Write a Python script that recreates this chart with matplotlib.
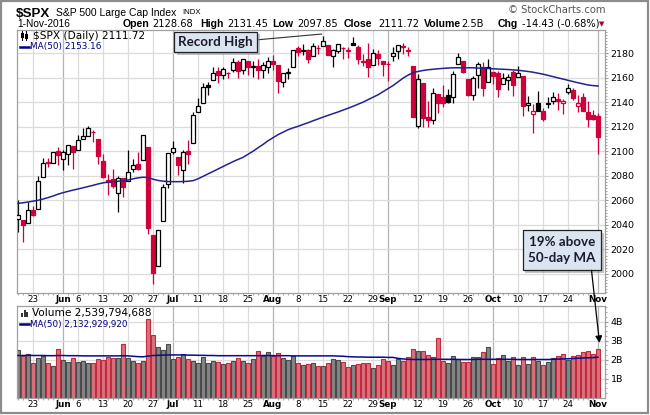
import matplotlib
matplotlib.use('Agg')
import matplotlib.pyplot as plt
import matplotlib.patheffects as pe
from matplotlib.patches import Rectangle
from matplotlib.lines import Line2D
import pandas as pd

# trading days 18-May-2016 .. 1-Nov-2016
days = pd.bdate_range('2016-05-18', '2016-11-01')
days = days.drop(pd.to_datetime(['2016-05-30', '2016-07-04', '2016-09-05']))

opens = [2044.38, 2044.21, 2041.88, 2052.23, 2052.65, 2078.93, 2091.44, 2090.06, 2100.13,
         2093.94, 2097.71, 2104.07, 2100.83, 2110.18, 2112.71, 2115.65, 2109.57, 2091.75, 2076.65,
         2077.60, 2066.36, 2078.20, 2075.58, 2085.19, 2089.75, 2092.80, 2103.81, 2031.45, 2006.67,
         2043.29, 2073.17,
         2099.34, 2095.05, 2084.43, 2100.42, 2106.97, 2131.72, 2139.50, 2153.81, 2157.88, 2165.13,
         2162.04, 2163.79, 2166.10, 2172.91, 2166.47, 2173.71, 2168.97, 2169.81, 2166.05, 2168.83,
         2173.15, 2169.94, 2156.81, 2163.51, 2168.79, 2183.76, 2182.24, 2182.81, 2177.97, 2183.74,
         2186.08, 2186.24, 2177.84, 2181.90, 2184.24, 2181.58, 2187.81, 2185.09, 2173.29, 2175.10,
         2170.19, 2179.45, 2173.56,
         2171.33, 2177.49, 2181.61, 2185.17, 2182.76, 2169.08, 2120.86, 2155.81, 2127.86, 2125.36,
         2146.48, 2143.99, 2145.94, 2144.58, 2170.94, 2173.29, 2158.54, 2146.04, 2161.85, 2168.90,
         2156.51,
         2164.33, 2163.37, 2155.15, 2158.22, 2164.19, 2160.39, 2161.35, 2137.67, 2130.26, 2139.68,
         2132.95, 2138.31, 2140.81, 2142.51, 2139.43, 2148.50, 2149.72, 2136.97, 2144.06, 2132.23,
         2129.78, 2128.68]
highs = [2060.61, 2044.21, 2058.35, 2055.58, 2079.67, 2094.73, 2094.30, 2099.06, 2103.48,
         2100.97, 2105.26, 2104.07, 2113.36, 2119.22, 2120.55, 2117.64, 2109.57, 2098.12, 2081.30,
         2085.65, 2079.62, 2078.20, 2100.66, 2093.66, 2099.71, 2113.32, 2103.81, 2031.45, 2036.09,
         2073.13, 2098.94,
         2108.71, 2095.05, 2100.72, 2109.08, 2131.71, 2143.16, 2155.40, 2156.45, 2168.99, 2169.05,
         2168.35, 2164.63, 2175.63, 2174.56, 2175.11, 2173.71, 2173.54, 2174.98, 2172.85, 2177.09,
         2178.29, 2170.20, 2163.79, 2168.19, 2182.87, 2185.44, 2187.66, 2183.41, 2188.45, 2186.28,
         2193.81, 2186.24, 2183.08, 2187.03, 2185.00, 2184.94, 2193.42, 2186.66, 2179.00, 2187.94,
         2183.48, 2182.27, 2173.79,
         2173.56, 2184.87, 2186.57, 2187.87, 2184.94, 2169.08, 2163.30, 2155.81, 2141.33, 2151.31,
         2146.48, 2153.61, 2150.80, 2165.11, 2179.99, 2173.75, 2158.54, 2161.13, 2172.40, 2172.67,
         2175.30,
         2164.33, 2165.46, 2163.95, 2162.93, 2165.86, 2169.60, 2161.56, 2145.36, 2138.19, 2149.19,
         2135.61, 2144.38, 2148.44, 2147.18, 2142.63, 2154.79, 2151.44, 2145.73, 2147.13, 2140.72,
         2133.25, 2131.45]
lows = [2034.49, 2025.91, 2041.88, 2047.26, 2052.65, 2078.93, 2087.08, 2090.06, 2088.66,
        2085.10, 2088.59, 2085.36, 2100.83, 2110.18, 2112.71, 2107.73, 2089.96, 2078.46, 2064.10,
        2069.80, 2050.37, 2062.84, 2075.58, 2083.02, 2084.36, 2092.80, 2032.57, 1991.68, 2006.67,
        2043.29, 2070.00,
        2097.90, 2080.86, 2074.02, 2089.39, 2106.97, 2131.72, 2139.50, 2146.21, 2157.88, 2155.79,
        2159.07, 2159.40, 2164.89, 2159.75, 2163.24, 2161.95, 2160.18, 2159.07, 2159.74, 2163.49,
        2166.21, 2147.58, 2152.56, 2159.07, 2168.79, 2177.85, 2178.61, 2172.00, 2177.97, 2179.42,
        2186.08, 2178.14, 2168.50, 2180.46, 2175.13, 2175.96, 2186.80, 2171.25, 2169.74, 2160.39,
        2170.19, 2170.41, 2161.35,
        2157.09, 2173.59, 2175.10, 2179.07, 2177.49, 2127.81, 2119.12, 2119.95, 2119.90, 2122.36,
        2131.20, 2135.91, 2139.17, 2139.57, 2170.94, 2163.97, 2145.04, 2141.55, 2151.79, 2145.20,
        2156.51,
        2154.77, 2144.01, 2155.15, 2150.28, 2144.85, 2160.39, 2128.84, 2132.77, 2114.72, 2132.98,
        2124.43, 2135.49, 2138.15, 2133.44, 2130.09, 2146.91, 2141.93, 2131.59, 2132.52, 2119.36,
        2125.53, 2097.85]
closes = [2047.63, 2040.04, 2052.32, 2048.04, 2076.06, 2090.54, 2090.10, 2099.06, 2096.95,
          2099.33, 2105.26, 2099.13, 2109.41, 2112.13, 2119.12, 2115.48, 2096.07, 2079.06, 2075.32,
          2071.50, 2077.99, 2071.22, 2083.25, 2088.90, 2085.45, 2113.32, 2037.41, 2000.54, 2036.09,
          2070.77, 2098.86,
          2102.95, 2088.55, 2099.73, 2097.90, 2129.90, 2137.16, 2152.14, 2152.43, 2163.75, 2161.74,
          2166.89, 2163.78, 2173.02, 2165.17, 2175.03, 2168.48, 2169.18, 2166.58, 2170.06, 2173.60,
          2170.84, 2157.03, 2163.79, 2164.25, 2182.87, 2180.89, 2181.74, 2175.49, 2185.79, 2184.05,
          2190.15, 2178.15, 2182.22, 2187.02, 2183.87, 2182.64, 2186.90, 2175.44, 2172.47, 2169.04,
          2180.38, 2176.12, 2170.95,
          2170.86, 2179.98, 2186.48, 2186.16, 2181.30, 2127.81, 2159.04, 2127.02, 2125.77, 2147.26,
          2139.16, 2139.12, 2139.76, 2163.12, 2177.18, 2164.69, 2146.10, 2159.93, 2171.37, 2151.13,
          2168.27,
          2161.20, 2150.49, 2159.73, 2160.77, 2153.74, 2163.66, 2136.73, 2139.18, 2132.55, 2132.98,
          2126.50, 2139.60, 2144.29, 2141.34, 2141.16, 2151.33, 2143.16, 2139.43, 2133.04, 2126.41,
          2126.15, 2111.72]
close_before = 2047.21  # 17-May close, sets colour of first candle

ma50 = [2057.5, 2058.0, 2058.6, 2059.3, 2060.0, 2061.0, 2062.2, 2063.5, 2065.0, 2066.2,
        2067.3, 2068.3, 2069.2, 2070.2, 2071.2, 2072.2, 2073.3, 2074.2, 2074.8, 2075.2,
        2075.5, 2075.8, 2076.5, 2077.5, 2078.3, 2078.8, 2078.6, 2077.2, 2076.2, 2075.6,
        2075.3, 2075.2, 2075.2, 2075.3, 2075.5, 2076.0, 2077.5, 2079.5, 2081.5, 2083.5,
        2085.5, 2087.5, 2089.5, 2091.5, 2093.3, 2095.0, 2097.5, 2100.0, 2102.8, 2105.5,
        2108.5, 2111.0, 2113.5, 2115.5, 2117.5, 2119.0, 2120.3, 2121.8, 2123.2, 2124.8,
        2126.3, 2127.8, 2129.2, 2130.6, 2132.0, 2133.5, 2135.0, 2136.6, 2138.3, 2140.0,
        2142.0, 2144.0, 2146.0, 2148.5, 2151.0, 2153.5, 2156.5, 2159.5, 2162.0, 2164.0,
        2165.0, 2165.8, 2166.4, 2166.8, 2167.2, 2167.5, 2167.8, 2168.0, 2168.0, 2168.0,
        2168.0, 2168.0, 2167.8, 2167.6, 2167.4, 2167.2, 2167.0, 2166.8, 2166.6, 2166.3,
        2166.0, 2165.5, 2165.0, 2164.4, 2163.6, 2162.8, 2161.8, 2160.8, 2159.8, 2158.8,
        2157.8, 2156.8, 2155.8, 2154.9, 2154.0, 2153.5, 2153.16]

volume_b = [2.51, 2.19, 2.30, 1.83, 2.09, 2.19, 1.83, 1.65, 2.56, 1.97,
            1.88, 2.09, 1.88, 1.93, 1.83, 1.83, 2.04, 1.99, 2.16, 2.09,
            2.09, 2.83, 2.09, 1.93, 1.83, 1.93, 4.14, 3.30, 2.67, 2.51,
            2.83, 2.04, 2.14, 2.30, 2.04, 1.95, 1.85, 2.15, 1.85, 1.95,
            1.90, 1.75, 1.85, 1.95, 2.10, 1.95, 1.83, 2.05, 2.45, 2.20,
            2.42, 2.20, 2.35, 2.10, 2.00, 2.20, 1.85, 1.70, 1.75, 1.85,
            1.65, 1.65, 1.83, 2.04, 1.99, 1.88, 1.62, 1.72, 1.78, 1.83,
            1.83, 1.56, 1.72, 2.04, 1.93, 1.72, 2.04, 1.93, 2.14, 2.56,
            2.46, 2.46, 2.25, 2.14, 3.14, 1.93, 1.83, 2.19, 2.04, 1.88,
            1.88, 2.14, 2.14, 2.40, 2.67, 1.78, 2.09, 2.25, 1.93, 2.14,
            1.72, 2.14, 1.78, 2.14, 1.93, 1.72, 1.88, 2.09, 2.19, 2.30,
            1.99, 2.19, 2.25, 2.41, 2.46, 2.30, 2.54]
vol_ma50_b = [2.22, 2.22, 2.23, 2.22, 2.22, 2.22, 2.21, 2.21, 2.22, 2.22,
              2.21, 2.21, 2.21, 2.20, 2.20, 2.20, 2.20, 2.20, 2.20, 2.20,
              2.20, 2.21, 2.20, 2.18, 2.16, 2.15, 2.19, 2.22, 2.23, 2.24,
              2.25, 2.25, 2.25, 2.25, 2.24, 2.24, 2.23, 2.23, 2.22, 2.22,
              2.21, 2.21, 2.21, 2.21, 2.21, 2.21, 2.21, 2.21, 2.21, 2.22,
              2.22, 2.21, 2.21, 2.21, 2.21, 2.20, 2.20, 2.20, 2.20, 2.20,
              2.20, 2.20, 2.20, 2.20, 2.19, 2.18, 2.16, 2.15, 2.14, 2.14,
              2.13, 2.13, 2.13, 2.13, 2.12, 2.12, 2.07, 2.04, 2.02, 2.01,
              2.01, 2.01, 2.01, 2.02, 2.02, 2.02, 2.02, 2.02, 2.01, 2.01,
              2.01, 2.01, 2.02, 2.02, 2.02, 2.02, 2.02, 2.02, 2.02, 2.02,
              2.01, 2.01, 2.01, 2.01, 2.01, 2.01, 2.01, 2.02, 2.03, 2.04,
              2.05, 2.06, 2.08, 2.09, 2.10, 2.11, 2.13]

tick_dates = ['2016-05-23', '2016-06-01', '2016-06-06', '2016-06-13', '2016-06-20', '2016-06-27',
              '2016-07-01', '2016-07-11', '2016-07-18', '2016-07-25', '2016-08-01', '2016-08-08',
              '2016-08-15', '2016-08-22', '2016-08-29', '2016-09-01', '2016-09-12', '2016-09-19',
              '2016-09-26', '2016-10-03', '2016-10-10', '2016-10-17', '2016-10-24', '2016-11-01']
tick_labels = ['23', 'Jun', '6', '13', '20', '27', 'Jul', '11', '18', '25', 'Aug', '8', '15',
               '22', '29', 'Sep', '12', '19', '26', 'Oct', '10', '17', '24', 'Nov']
months = ['Jun', 'Jul', 'Aug', 'Sep', 'Oct', 'Nov']

RED = '#d0003a'
W, H = 650, 415


def fx(x):
    return x / W


def fy(y):
    return 1 - y / H


fig = plt.figure(figsize=(6.5, 4.15), dpi=100)
ax = fig.add_axes([fx(17), fy(292.7), fx(605) - fx(17), fy(30) - fy(292.7)])
axv = fig.add_axes([fx(17), fy(397.7), fx(605) - fx(17), fy(305.7) - fy(397.7)])

n = len(closes)
ticks = [list(days).index(pd.Timestamp(d)) for d in tick_dates]

for a in (ax, axv):
    a.set_xlim(-0.2, n - 1 + 1.4)
    for t, lab in zip(ticks, tick_labels):
        a.axvline(t, color='#b4b4b4' if lab in months else '#dcdcdc', lw=0.9, zorder=0)
    a.set_xticks(ticks)
    a.set_xticklabels(tick_labels, fontsize=6.3)
    for tl in a.get_xticklabels():
        if tl.get_text() in months:
            tl.set_fontweight('bold')
    a.set_xticks(range(n), minor=True)
    a.tick_params(axis='x', which='major', length=0, pad=2)
    a.tick_params(axis='x', which='minor', length=1.5, color='#999999')
    a.yaxis.tick_right()
    a.tick_params(axis='y', which='major', length=2, pad=2, labelsize=6.8, color='#999999')
    a.tick_params(axis='y', which='minor', length=1.5, color='#999999')
    for s in a.spines.values():
        s.set_color('#a0a0a0')
        s.set_linewidth(0.9)

# price panel
ax.set_ylim(1984.7, 2198.8)
ax.set_yticks(range(2000, 2181, 20))
ax.set_yticks([2000 + 2.5 * k for k in range(-6, 80)], minor=True)
for v in range(2000, 2181, 20):
    ax.axhline(v, color='#dcdcdc', lw=0.9, zorder=0)

prev = close_before
for i in range(n):
    o, h, l, c = opens[i], highs[i], lows[i], closes[i]
    col = RED if c < prev else 'black'
    ax.plot([i, i], [l, h], color=col, lw=0.9, zorder=2, solid_capstyle='butt')
    lo, hi = min(o, c), max(o, c)
    face = col if c < o else 'white'
    ax.add_patch(Rectangle((i - 0.32, lo), 0.64, max(hi - lo, 0.3), facecolor=face,
                           edgecolor=col, lw=0.9, zorder=3))
    prev = c

ax.plot(range(n), ma50, color='#23238f', lw=1.1, zorder=4)

# volume panel
axv.set_ylim(0, 4.84)
axv.set_yticks([1, 2, 3, 4])
axv.set_yticklabels(['1B', '2B', '3B', '4B'])
axv.set_yticks([0.25 * k for k in range(1, 20)], minor=True)
for v in [1, 2, 3, 4]:
    axv.axhline(v, color='#dcdcdc', lw=0.9, zorder=0)
prev = close_before
for i in range(n):
    down = closes[i] < prev
    axv.bar(i, volume_b[i], width=0.84, color='#d8737e' if down else '#858585',
            edgecolor='#c42a3e' if down else '#4a4a4a', lw=0.8, zorder=2)
    prev = closes[i]
axv.plot(range(n), vol_ma50_b, color='#0a0a8c', lw=1.1, zorder=4)

# header
fig.text(fx(16), fy(14), '$SPX', fontsize=9.6, fontweight='bold', family='Liberation Sans',
         va='center')
fig.text(fx(56), fy(13), 'S&P 500 Large Cap Index', fontsize=7.5, family='Liberation Sans',
         va='center')
fig.text(fx(182), fy(13), 'INDX', fontsize=5.6, family='Liberation Sans', va='center')
fig.text(fx(17), fy(24), '1-Nov-2016', fontsize=7.3, family='Liberation Sans', va='center')
fig.text(fx(605), fy(10), '\u00a9 StockCharts.com', fontsize=7.2, color='#555555',
         family='DejaVu Sans', ha='right', va='center')
header = [(123, 'Open', True), (152, '2128.68', False), (200, 'High', True),
          (227, '2131.45', False), (272, 'Low', True), (297, '2097.85', False),
          (344, 'Close', True), (378, '2111.72', False), (424, 'Volume', True),
          (461, '2.5B', False), (498, 'Chg', True), (522, '-14.43 (-0.68%)', False)]
for x, s, b in header:
    fig.text(fx(x), fy(24), s, fontsize=7.6 if b else 7.1, va='center',
             fontweight='bold' if b else 'normal',
             family='Liberation Sans' if b else 'DejaVu Sans')
fig.text(fx(599), fy(24), '\u25bc', fontsize=5, color='#b0002a', va='center')

# legends inside panels
fig.add_artist(Line2D([fx(22), fx(22)], [fy(31), fy(40)], color='black', lw=0.8))
fig.add_artist(Rectangle((fx(20.5), fy(38)), fx(3), fy(33) - fy(38), facecolor='black'))
fig.add_artist(Line2D([fx(26.5), fx(26.5)], [fy(31), fy(40)], color='black', lw=0.8))
fig.add_artist(Rectangle((fx(25), fy(39)), fx(3), fy(34) - fy(39), facecolor='black'))
fig.text(fx(33), fy(36), '$SPX (Daily) 2111.72', fontsize=7.6, va='center')
fig.add_artist(Line2D([fx(20), fx(29)], [fy(46.7), fy(46.7)], color='#000080', lw=1.8))
fig.text(fx(30.5), fy(46.7), 'MA(50) 2153.16', fontsize=6.4, color='#000080', va='center')

for bx, bh in [(20.5, 4), (23.5, 7), (26.5, 5)]:
    fig.add_artist(Rectangle((fx(bx), fy(317)), fx(2), fy(317 - bh) - fy(317),
                             facecolor='#333333'))
fig.text(fx(32), fy(313.3), 'Volume 2,539,794,688', fontsize=7.6, va='center')
fig.add_artist(Line2D([fx(20), fx(29)], [fy(324.3), fy(324.3)], color='#000080', lw=1.8))
fig.text(fx(30.5), fy(324.3), 'MA(50) 2,132,929,920', fontsize=6.3, color='#000080',
         va='center')

# annotations
shadow = [pe.withSimplePatchShadow(offset=(2, -2), shadow_rgbFace='#888888', alpha=0.5)]
ax.plot([45.4, 60.7], [2189.9, 2195.5], color='#333333', lw=0.8, zorder=5, clip_on=False)
t1 = ax.text(39.5, 2189.2, 'Record High', fontsize=9.6, fontweight='bold', family='Lato',
             color='#1a1a2e', ha='center', va='center', zorder=6, clip_on=False,
             bbox=dict(boxstyle='square,pad=0.32', facecolor='#dbe5f1', edgecolor='#222222',
                       lw=0.9))
t1.get_bbox_patch().set_path_effects(shadow)
t2 = ax.text(108.8, 2019.6, '19% above\n50-day MA', fontsize=9.6, fontweight='bold',
             family='Lato', color='#1a1a2e', ha='center', va='center', zorder=6,
             linespacing=1.45, clip_on=False,
             bbox=dict(boxstyle='square,pad=0.42', facecolor='#dbe5f1', edgecolor='#222222',
                       lw=0.9))
t2.get_bbox_patch().set_path_effects(shadow)
axv.annotate('', xy=(116.3, 2.88), xycoords='data', xytext=(114.7, 2003.0),
             textcoords=ax.transData, annotation_clip=False,
             arrowprops=dict(arrowstyle='-|>', color='black', lw=0.9, mutation_scale=10,
                             shrinkA=0, shrinkB=0))

fig.add_artist(Rectangle((0.002, 0.004), 0.995, 0.993, fill=False, edgecolor='#8c8c8c',
                         lw=1.6, transform=fig.transFigure))

fig.savefig('out.png', dpi=100)
